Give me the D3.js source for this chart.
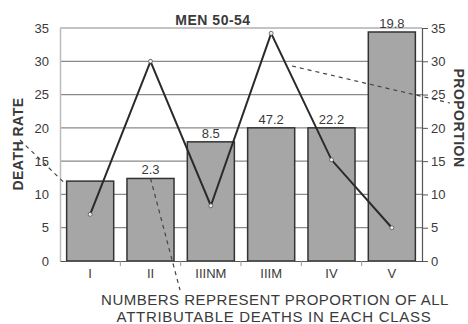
<!DOCTYPE html>
<html>
<head>
<meta charset="utf-8">
<script src="https://cdn.jsdelivr.net/npm/d3@7"></script>
<style>
  body { margin: 0; background: #fff; }
  text { font-family: "Liberation Sans", Arial, sans-serif; font-weight: bold; fill: #3a3a3a; }
</style>
</head>
<body>
<div id="chart"></div>
<script>
// Chart values
const categories = ["I", "II", "IIINM", "IIIM", "IV", "V"];
const deathRate = [12, 12.4, 17.9, 20, 20, 34.4];
const proportion = [7, 30, 8.3, 34.2, 15.2, 5];
const barLabels = ["", "2.3", "8.5", "47.2", "22.2", "19.8"];
const yTicks = [0, 5, 10, 15, 20, 25, 30, 35];

const width = 468, height = 324;
const margin = { top: 28, right: 46, bottom: 63, left: 60 };

const svg = d3.select("#chart").append("svg")
  .attr("width", width)
  .attr("height", height);

const x = d3.scaleBand()
  .domain(categories)
  .range([margin.left, width - margin.right])
  .paddingInner(0.22)
  .paddingOuter(0.11);

const y = d3.scaleLinear()
  .domain([0, 35])
  .range([height - margin.bottom, margin.top]);

// Gridlines
svg.append("g")
  .selectAll("line")
  .data(yTicks.slice(1))
  .join("line")
  .attr("x1", margin.left)
  .attr("x2", width - margin.right)
  .attr("y1", d => y(d))
  .attr("y2", d => y(d))
  .attr("stroke", "#8a8a8a")
  .attr("stroke-width", 1.2);

// Bars
svg.append("g")
  .selectAll("rect")
  .data(deathRate)
  .join("rect")
  .attr("x", (d, i) => x(categories[i]))
  .attr("y", d => y(d))
  .attr("width", x.bandwidth())
  .attr("height", d => y(0) - y(d))
  .attr("fill", "#a6a6a6")
  .attr("stroke", "#333")
  .attr("stroke-width", 1.5);

// Labels over bars
svg.append("g")
  .selectAll("text")
  .data(barLabels)
  .join("text")
  .attr("x", (d, i) => x(categories[i]) + x.bandwidth() / 2)
  .attr("y", (d, i) => y(deathRate[i]) - 4)
  .attr("text-anchor", "middle")
  .style("font-size", "13px")
  .style("font-weight", "normal")
  .text(d => d);

// Proportion line
const line = d3.line()
  .x((d, i) => x(categories[i]) + x.bandwidth() / 2)
  .y(d => y(d));

svg.append("path")
  .datum(proportion)
  .attr("d", line)
  .attr("fill", "none")
  .attr("stroke", "#2a2a2a")
  .attr("stroke-width", 2);

svg.append("g")
  .selectAll("circle")
  .data(proportion)
  .join("circle")
  .attr("cx", (d, i) => x(categories[i]) + x.bandwidth() / 2)
  .attr("cy", d => y(d))
  .attr("r", 2)
  .attr("fill", "#eee")
  .attr("stroke", "#555")
  .attr("stroke-width", 0.8);

// Axes
const tickFont = sel => sel.selectAll("text")
  .style("font-size", "13px")
  .style("font-weight", "normal")
  .style("font-family", "Liberation Sans, Arial, sans-serif")
  .attr("fill", "#3a3a3a");

const left = svg.append("g")
  .attr("transform", `translate(${margin.left},0)`)
  .call(d3.axisLeft(y).tickValues(yTicks).tickSize(0).tickPadding(11));
left.select(".domain").attr("stroke", "#bbb").attr("stroke-width", 1.5);
tickFont(left);

const right = svg.append("g")
  .attr("transform", `translate(${width - margin.right},0)`)
  .call(d3.axisRight(y).tickValues(yTicks).tickSize(6).tickPadding(3));
right.select(".domain").attr("stroke", "#555").attr("stroke-width", 1.2);
right.selectAll("line").attr("stroke", "#555");
tickFont(right);

const bottom = svg.append("g")
  .attr("transform", `translate(0,${height - margin.bottom})`)
  .call(d3.axisBottom(x).tickSize(0).tickPadding(8));
bottom.select(".domain").attr("stroke", "#555").attr("stroke-width", 1.2);
tickFont(bottom);

// Small ticks between categories
svg.append("g")
  .selectAll("line")
  .data(categories.slice(1))
  .join("line")
  .attr("x1", d => x(d) - x.step() * x.paddingInner() / 2)
  .attr("x2", d => x(d) - x.step() * x.paddingInner() / 2)
  .attr("y1", y(0))
  .attr("y2", y(0) + 5)
  .attr("stroke", "#999");

// Title
svg.append("text")
  .attr("x", 213)
  .attr("y", 25)
  .attr("text-anchor", "middle")
  .style("font-size", "14px")
  .style("letter-spacing", "0.5px")
  .text("MEN 50-54");

// Axis titles
svg.append("text")
  .attr("transform", `translate(23,144) rotate(-90)`)
  .attr("text-anchor", "middle")
  .style("font-size", "14px")
  .style("letter-spacing", "0.5px")
  .text("DEATH RATE");

svg.append("text")
  .attr("transform", `translate(454,118) rotate(90)`)
  .attr("text-anchor", "middle")
  .style("font-size", "14px")
  .style("letter-spacing", "0.5px")
  .text("PROPORTION");

// Dashed pointer lines
const pointer = (x1, y1, x2, y2) => svg.append("line")
  .attr("x1", x1).attr("y1", y1).attr("x2", x2).attr("y2", y2)
  .attr("stroke", "#444")
  .attr("stroke-width", 1.2)
  .attr("stroke-dasharray", "4,4");

pointer(20, 140, x("I") - 2, y(deathRate[0]) + 2);
pointer(x("II") + x.bandwidth() / 2, y(deathRate[1]), 180, 290);
pointer(292, 66, 450, 103);

// Note
svg.append("text")
  .attr("x", 275)
  .attr("y", 305)
  .attr("text-anchor", "middle")
  .style("font-size", "15px")
  .style("font-weight", "normal")
  .style("letter-spacing", "0.5px")
  .text("NUMBERS REPRESENT PROPORTION OF ALL");

svg.append("text")
  .attr("x", 274)
  .attr("y", 322)
  .attr("text-anchor", "middle")
  .style("font-size", "15px")
  .style("font-weight", "normal")
  .style("letter-spacing", "0.7px")
  .text("ATTRIBUTABLE DEATHS IN EACH CLASS");
</script>
</body>
</html>
